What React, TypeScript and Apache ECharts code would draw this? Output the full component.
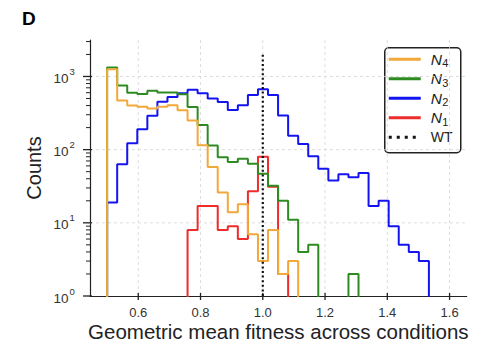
import React, { useEffect, useRef } from 'react';
import * as echarts from 'echarts';

// ---- data ----
const binStart = 0.5;
const binWidth = 0.0323;
const n4Counts = [1250, 470, 400, 385, 365, 385, 405, 345, 250, 115, 58, 26, 14, 18, 7, 3, 8, 2, 3];
const n3Counts = [1330, 750, 600, 575, 640, 605, 605, 570, 383, 218, 114, 79, 68, 75, 64, 47, 32, 20, 11, 4, 5, 0, 0, 0, 2];
const n2Counts = [19, 63, 122, 190, 290, 450, 524, 590, 660, 590, 498, 447, 347, 405, 560, 670, 560, 293, 155, 119, 81, 55, 38, 46, 42, 48, 17, 20, 9, 5, 4, 3];
const n1Counts = [0, 0, 0, 0, 0, 0, 0, 0, 8, 17, 17, 8, 9, 6, 27, 80, 31, 2];
const seriesNames = ['N1', 'N2', 'N3', 'N4'];
const xTicks = [0.6, 0.8, 1.0, 1.2, 1.4, 1.6];
const xTickLabels = ['0.6', '0.8', '1.0', '1.2', '1.4', '1.6'];
const yMajorTicks = [1, 10, 100, 1000];
const yExponents = ['0', '1', '2', '3'];
const yMinorTicks = [2, 3, 4, 5, 6, 7, 8, 9, 20, 30, 40, 50, 60, 70, 80, 90, 200, 300, 400, 500, 600, 700, 800, 900, 2000, 3000];
const xRange = [0.445, 1.655];
const yRange = [1, 3150];
const wtX = 1.0;
const wtTop = 2000;

const FONT = '"Liberation Sans", Arial, Helvetica, sans-serif';
const C_N4 = '#F2A83A';
const C_N3 = '#2E8B22';
const C_N2 = '#1414F0';
const C_N1 = '#EE2C2C';
const FLOOR = 0.1;

function stepPoints(counts: number[]) {
  const safe = (c: number) => (c > 0 ? c : FLOOR);
  const pts: number[][] = [[binStart, FLOOR]];
  counts.forEach((c, i) => {
    const l = binStart + i * binWidth;
    pts.push([l, safe(c)], [l + binWidth, safe(c)]);
  });
  pts.push([binStart + counts.length * binWidth, FLOOR]);
  return pts;
}

function histSeries(name: string, counts: number[], color: string, z: number) {
  return {
    name,
    type: 'line',
    data: stepPoints(counts),
    symbol: 'none',
    showSymbol: false,
    clip: true,
    z,
    lineStyle: { color, width: 2 },
    itemStyle: { color },
  };
}

function legendRow(y: number, color: string, sub: string, dash?: number[]) {
  const children: any[] = [
    {
      type: 'line',
      shape: { x1: 4, y1: y, x2: 36, y2: y },
      style: dash
        ? { stroke: '#111', lineWidth: 3, lineDash: dash }
        : { stroke: color, lineWidth: 3 },
    },
  ];
  if (sub) {
    children.push(
      { type: 'text', x: 46, y, style: { text: 'N', font: `italic 15.5px ${FONT}`, fill: '#222', verticalAlign: 'middle', textVerticalAlign: 'middle' } },
      { type: 'text', x: 57.5, y: y + 4, style: { text: sub, font: `11px ${FONT}`, fill: '#222', verticalAlign: 'middle', textVerticalAlign: 'middle' } }
    );
  } else {
    children.push({ type: 'text', x: 46, y, style: { text: 'WT', font: `14px ${FONT}`, fill: '#222', verticalAlign: 'middle', textVerticalAlign: 'middle' } });
  }
  return children;
}

export default function App() {
  const ref = useRef<HTMLDivElement>(null);
  useEffect(() => {
    if (!ref.current) return;
    const chart = echarts.init(ref.current, null, { renderer: 'svg' });
    const option: any = {
      animation: false,
      backgroundColor: '#fff',
      grid: { left: 90, top: 40, right: 14.3, bottom: 52 },
      xAxis: {
        type: 'value',
        min: xRange[0],
        max: xRange[1],
        axisLine: { show: true, lineStyle: { color: '#222', width: 1.2 } },
        axisTick: { show: false },
        axisLabel: { show: false },
        splitLine: { show: false },
        name: 'Geometric mean fitness across conditions',
        nameLocation: 'middle',
        nameGap: 25,
        nameTextStyle: { fontSize: 20.5, fontFamily: FONT, color: '#222' },
      },
      yAxis: {
        type: 'log',
        logBase: 10,
        min: yRange[0],
        max: yRange[1],
        axisLine: { show: true, lineStyle: { color: '#222', width: 1.2 } },
        axisTick: { show: false },
        axisLabel: { show: false },
        splitLine: { show: false },
        name: 'Counts',
        nameLocation: 'middle',
        nameGap: 46,
        nameRotate: 90,
        nameTextStyle: { fontSize: 20, fontFamily: FONT, color: '#222' },
      },
      series: [
        // x grid lines, ticks, labels
        {
          type: 'custom',
          coordinateSystem: 'cartesian2d',
          clip: false,
          silent: true,
          z: 1,
          data: xTicks.map((v) => [v, yRange[0]]),
          renderItem: (params: any, api: any) => {
            const v = api.value(0);
            const b = api.coord([v, yRange[0]]);
            const t = api.coord([v, yRange[1]]);
            return {
              type: 'group',
              children: [
                { type: 'line', shape: { x1: b[0], y1: t[1], x2: b[0], y2: b[1] }, style: { stroke: '#d4d4d4', lineWidth: 0.8, lineDash: [3, 3] } },
                { type: 'line', shape: { x1: b[0], y1: b[1] - 3, x2: b[0], y2: b[1] + 4 }, style: { stroke: '#222', lineWidth: 1.3 } },
                {
                  type: 'text', x: b[0], y: b[1] + 16,
                  style: { text: xTickLabels[params.dataIndex], font: `13px ${FONT}`, fill: '#333', align: 'center', textAlign: 'center', verticalAlign: 'middle', textVerticalAlign: 'middle' },
                },
              ],
            };
          },
        },
        // y grid lines, major ticks, labels
        {
          type: 'custom',
          coordinateSystem: 'cartesian2d',
          clip: false,
          silent: true,
          z: 1,
          data: yMajorTicks.map((v) => [xRange[0], v]),
          renderItem: (params: any, api: any) => {
            const v = api.value(1);
            const p = api.coord([xRange[0], v]);
            const r = api.coord([xRange[1], v]);
            const children: any[] = [];
            if (v > yRange[0]) {
              children.push({ type: 'line', shape: { x1: p[0], y1: p[1], x2: r[0], y2: p[1] }, style: { stroke: '#d4d4d4', lineWidth: 0.8, lineDash: [3, 3] } });
            }
            children.push(
              { type: 'line', shape: { x1: p[0] - 7, y1: p[1], x2: p[0] + 2, y2: p[1] }, style: { stroke: '#222', lineWidth: 1.3 } },
              { type: 'text', x: p[0] - 21.5, y: p[1] + 2, style: { text: '10', font: `13.5px ${FONT}`, fill: '#333', align: 'right', textAlign: 'right', verticalAlign: 'middle', textVerticalAlign: 'middle' } },
              { type: 'text', x: p[0] - 20.5, y: p[1] - 5, style: { text: yExponents[params.dataIndex], font: `9.5px ${FONT}`, fill: '#333', align: 'left', textAlign: 'left', verticalAlign: 'middle', textVerticalAlign: 'middle' } }
            );
            return { type: 'group', children };
          },
        },
        // y minor ticks
        {
          type: 'custom',
          coordinateSystem: 'cartesian2d',
          clip: false,
          silent: true,
          z: 1,
          data: yMinorTicks.map((v) => [xRange[0], v]),
          renderItem: (params: any, api: any) => {
            const p = api.coord([xRange[0], api.value(1)]);
            return { type: 'line', shape: { x1: p[0] - 4, y1: p[1], x2: p[0], y2: p[1] }, style: { stroke: '#222', lineWidth: 1 } };
          },
        },
        histSeries(seriesNames[0], n1Counts, C_N1, 2),
        histSeries(seriesNames[1], n2Counts, C_N2, 3),
        histSeries(seriesNames[2], n3Counts, C_N3, 4),
        histSeries(seriesNames[3], n4Counts, C_N4, 5),
        {
          name: 'WT',
          type: 'line',
          data: [[wtX, yRange[0]], [wtX, wtTop]],
          symbol: 'none',
          z: 6,
          lineStyle: { color: '#111', width: 2.2, type: [2, 2.6] },
        },
      ],
      graphic: [
        { type: 'text', left: 22, top: 9, style: { text: 'D', font: `bold 19px ${FONT}`, fill: '#000' } },
        {
          type: 'group',
          left: 384,
          top: 47,
          z: 100,
          children: [
            { type: 'rect', shape: { x: 0, y: 0, width: 76, height: 105, r: 4 }, style: { fill: '#fff', stroke: '#222', lineWidth: 1.5 } },
            ...legendRow(11.5, C_N4, '4'),
            ...legendRow(31, C_N3, '3'),
            ...legendRow(50.5, C_N2, '2'),
            ...legendRow(70, C_N1, '1'),
            ...legendRow(89.5, '#111', '', [3, 5]),
          ],
        },
      ],
    };
    chart.setOption(option);
    return () => chart.dispose();
  }, []);
  return <div ref={ref} style={{ position: 'fixed', left: 0, top: 0, width: 481, height: 348, background: '#fff' }} />;
}
